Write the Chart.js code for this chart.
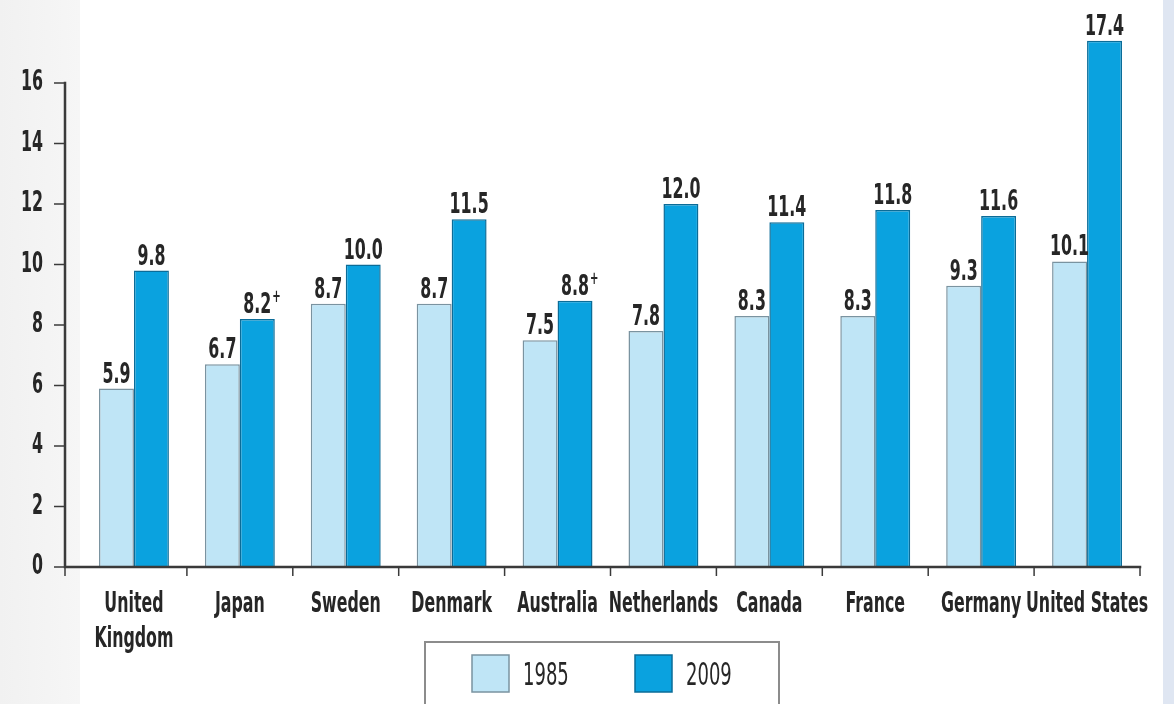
<!DOCTYPE html>
<html>
<head>
<meta charset="utf-8">
<script src="https://cdn.jsdelivr.net/npm/chart.js@4.4.1/dist/chart.umd.min.js"></script>
<style>
  html, body { margin: 0; padding: 0; background: #fff; }
  #wrap { width: 1174px; height: 704px; position: relative; }
</style>
</head>
<body>
<div id="wrap"><canvas id="chart"></canvas></div>
<script>
const countries = [['United', 'Kingdom'], 'Japan', 'Sweden', 'Denmark', 'Australia',
  'Netherlands', 'Canada', 'France', 'Germany', 'United States'];
const years = ['1985', '2009'];
const values1985 = [5.9, 6.7, 8.7, 8.7, 7.5, 7.8, 8.3, 8.3, 9.3, 10.1];
const values2009 = [9.8, 8.2, 10.0, 11.5, 8.8, 12.0, 11.4, 11.8, 11.6, 17.4];
const notes1985 = ['', '', '', '', '', '', '', '', '', ''];
const notes2009 = ['', '+', '', '', '+', '', '', '', '', ''];
const yTicks = [0, 2, 4, 6, 8, 10, 12, 14, 16];

const FONT = '"DejaVu Sans Condensed", "DejaVu Sans", sans-serif';
const SQUEEZE = 0.8;    // narrow...
const STRETCH = 1.27;   // ...and tall lettering
const INK = '#262626';
const AXIS = '#3a3a3a';

// condensed text; y is the baseline, returns the drawn width
function tallText(ctx, text, x, y, size, align, weight) {
  ctx.save();
  ctx.font = `${weight || 'bold'} ${size}px ${FONT}`;
  ctx.fillStyle = INK;
  ctx.textAlign = align || 'center';
  ctx.textBaseline = 'alphabetic';
  ctx.translate(x, y);
  ctx.scale(SQUEEZE, STRETCH);
  ctx.fillText(text, 0, 0);
  const w = ctx.measureText(text).width * SQUEEZE;
  ctx.restore();
  return w;
}

const backdrop = {
  id: 'backdrop',
  beforeDraw(chart) {
    const { ctx, width, height } = chart;
    ctx.save();
    ctx.fillStyle = '#ffffff';
    ctx.fillRect(0, 0, width, height);
    const g = ctx.createLinearGradient(0, 0, 80, 0);
    g.addColorStop(0, '#f1f1f1');
    g.addColorStop(1, '#f6f6f6');
    ctx.fillStyle = g;
    ctx.fillRect(0, 0, 80, height);
    ctx.fillStyle = '#dfe6f2';
    ctx.fillRect(1163, 0, width - 1163, height);
    ctx.restore();
  }
};

const axes = {
  id: 'axes',
  afterDatasetsDraw(chart) {
    const { ctx, scales: { x, y } } = chart;
    const y0 = y.getPixelForValue(0);
    const yTop = y.getPixelForValue(yTicks[yTicks.length - 1]);
    const axisX = 65;
    const step = x.width / countries.length;
    ctx.save();
    ctx.strokeStyle = AXIS;
    ctx.lineCap = 'square';
    ctx.lineWidth = 2.5;
    ctx.beginPath();
    ctx.moveTo(axisX, yTop);
    ctx.lineTo(axisX, y0);
    ctx.lineTo(x.right, y0);
    ctx.stroke();
    ctx.lineWidth = 1.5;
    ctx.lineCap = 'butt';
    yTicks.forEach(v => {
      const py = y.getPixelForValue(v);
      ctx.beginPath();
      ctx.moveTo(54, py);
      ctx.lineTo(axisX, py);
      ctx.stroke();
      tallText(ctx, String(v), 43, py + 7, 22, 'right');
    });
    // category boundaries along the baseline
    const marks = [axisX];
    countries.forEach((c, i) => marks.push(x.getPixelForTick(i) + step / 2));
    marks.forEach(px => {
      ctx.beginPath();
      ctx.moveTo(px, y0);
      ctx.lineTo(px, y0 + 9);
      ctx.stroke();
    });
    // category names
    countries.forEach((c, i) => {
      const px = x.getPixelForTick(i);
      const lines = Array.isArray(c) ? c : [c];
      lines.forEach((t, k) => tallText(ctx, t, px, y0 + 45 + k * 35, 22));
    });
    ctx.restore();
  }
};

const valueLabels = {
  id: 'valueLabels',
  afterDatasetsDraw(chart) {
    const { ctx } = chart;
    const notes = [notes1985, notes2009];
    chart.data.datasets.forEach((ds, di) => {
      chart.getDatasetMeta(di).data.forEach((bar, i) => {
        const txt = ds.data[i].toFixed(1);
        const w = tallText(ctx, txt, bar.x, bar.y - 6, 22);
        if (notes[di][i]) {
          tallText(ctx, notes[di][i], bar.x + w / 2 + 1, bar.y - 17, 14, 'left');
        }
      });
    });
  }
};

const legendBox = {
  id: 'legendBox',
  afterDraw(chart) {
    const { ctx } = chart;
    ctx.save();
    ctx.strokeStyle = '#8c8c8c';
    ctx.lineWidth = 2;
    ctx.strokeRect(425, 642, 354, 80);
    const swatchX = [472, 635];
    chart.data.datasets.forEach((ds, i) => {
      ctx.fillStyle = ds.backgroundColor;
      ctx.fillRect(swatchX[i], 655, 37, 37);
      ctx.strokeStyle = ds.borderColor;
      ctx.lineWidth = 1.5;
      ctx.strokeRect(swatchX[i], 655, 37, 37);
      tallText(ctx, ds.label, swatchX[i] + 51, 685, 25, 'left', 'normal');
    });
    ctx.restore();
  }
};

new Chart(document.getElementById('chart'), {
  type: 'bar',
  data: {
    labels: countries,
    datasets: [
      {
        label: years[0],
        data: values1985,
        backgroundColor: '#bfe5f6',
        borderColor: '#7a93a0',
        borderWidth: 1.5,
        borderSkipped: 'bottom'
      },
      {
        label: years[1],
        data: values2009,
        backgroundColor: '#0aa2df',
        borderColor: '#0b6c98',
        borderWidth: 1.5,
        borderSkipped: 'bottom'
      }
    ]
  },
  options: {
    responsive: true,
    maintainAspectRatio: false,
    animation: false,
    layout: { autoPadding: false, padding: { top: 22.5, right: 34, left: 0, bottom: 0 } },
    datasets: { bar: { categoryPercentage: 0.66, barPercentage: 1.0 } },
    scales: {
      x: {
        grid: { display: false },
        border: { display: false },
        ticks: { display: false },
        afterFit: s => { s.height = 137; }
      },
      y: {
        min: 0,
        max: 18,
        grid: { display: false },
        border: { display: false },
        ticks: { display: false },
        afterBuildTicks: s => { s.ticks = yTicks.map(v => ({ value: v })); },
        afterFit: s => { s.width = 81; }
      }
    },
    plugins: {
      legend: { display: false },
      tooltip: { enabled: false }
    }
  },
  plugins: [backdrop, axes, valueLabels, legendBox]
});
</script>
</body>
</html>
